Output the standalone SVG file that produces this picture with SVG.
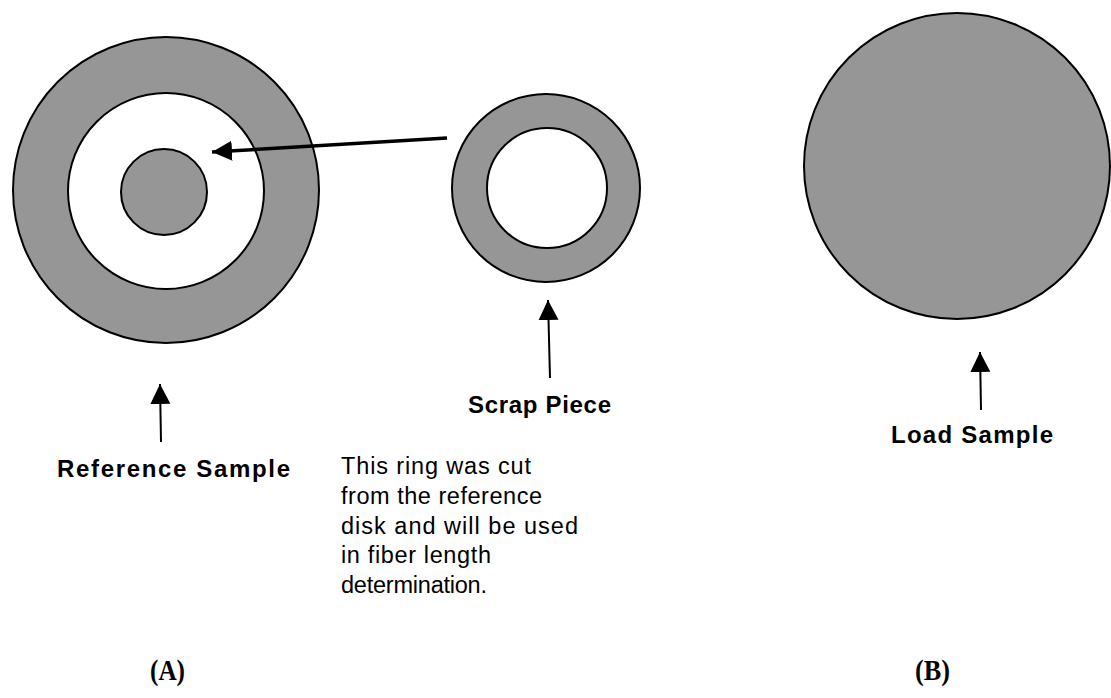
<svg xmlns="http://www.w3.org/2000/svg" width="1111" height="698" viewBox="0 0 1111 698">
  <style>
    .disk { fill: #969696; stroke: #000; stroke-width: 2; }
    .hole { fill: #fff; stroke: #000; stroke-width: 2; }
    .lbl { font-family: "Liberation Sans", Arial, sans-serif; font-weight: bold; font-size: 24px; fill: #000; }
    .txt { font-family: "Liberation Sans", Arial, sans-serif; font-size: 23.5px; fill: #000; }
    .cap { font-family: "Liberation Serif", "Times New Roman", serif; font-weight: bold; font-size: 29px; fill: #000; }
    .thin { stroke: #000; stroke-width: 2; fill: none; }
    .thick { stroke: #000; stroke-width: 3.5; fill: none; }
  </style>
  <defs>
    <marker id="headThin" markerUnits="userSpaceOnUse" markerWidth="22" markerHeight="22" refX="20" refY="10" orient="auto" viewBox="0 0 22 22">
      <path d="M0,0 L20,10 L0,20 Z" fill="#000"/>
    </marker>
    <marker id="headThick" markerUnits="userSpaceOnUse" markerWidth="22" markerHeight="22" refX="20" refY="10" orient="auto" viewBox="0 0 22 22">
      <path d="M0,0 L20,10 L0,20 Z" fill="#000"/>
    </marker>
  </defs>

  <rect width="1111" height="698" fill="#fff"/>

  <g id="reference-sample">
    <circle class="disk" cx="166" cy="190" r="153"/>
    <circle class="hole" cx="166" cy="191" r="98"/>
    <circle class="disk" cx="164" cy="192" r="43"/>
  </g>

  <g id="scrap-piece">
    <circle class="disk" cx="546" cy="188" r="94"/>
    <circle class="hole" cx="547" cy="188" r="60"/>
  </g>

  <g id="load-sample">
    <circle class="disk" cx="957" cy="166" r="153"/>
  </g>

  <g id="connectors">
    <line class="thick" x1="447" y1="138" x2="212" y2="152" marker-end="url(#headThick)"/>
    <line class="thin" x1="161" y1="442" x2="160" y2="384" marker-end="url(#headThin)"/>
    <line class="thin" x1="550" y1="378" x2="548" y2="300" marker-end="url(#headThin)"/>
    <line class="thin" x1="981" y1="410" x2="980" y2="352" marker-end="url(#headThin)"/>
  </g>

  <g id="labels">
    <text class="lbl" x="57" y="477" textLength="233" lengthAdjust="spacing">Reference Sample</text>
    <text class="lbl" x="468" y="413" textLength="143" lengthAdjust="spacing">Scrap Piece</text>
    <text class="lbl" x="891" y="443" textLength="162" lengthAdjust="spacing">Load Sample</text>
    <text class="txt" x="341" y="474" textLength="190" lengthAdjust="spacing">This ring was cut</text>
    <text class="txt" x="341" y="504" textLength="201" lengthAdjust="spacing">from the reference</text>
    <text class="txt" x="341" y="534" textLength="237" lengthAdjust="spacing">disk and will be used</text>
    <text class="txt" x="341" y="563" textLength="150" lengthAdjust="spacing">in fiber length</text>
    <text class="txt" x="341" y="593" textLength="146" lengthAdjust="spacing">determination.</text>
    <text class="cap" x="150" y="680" textLength="35" lengthAdjust="spacingAndGlyphs">(A)</text>
    <text class="cap" x="915" y="680" textLength="35" lengthAdjust="spacingAndGlyphs">(B)</text>
  </g>
</svg>
